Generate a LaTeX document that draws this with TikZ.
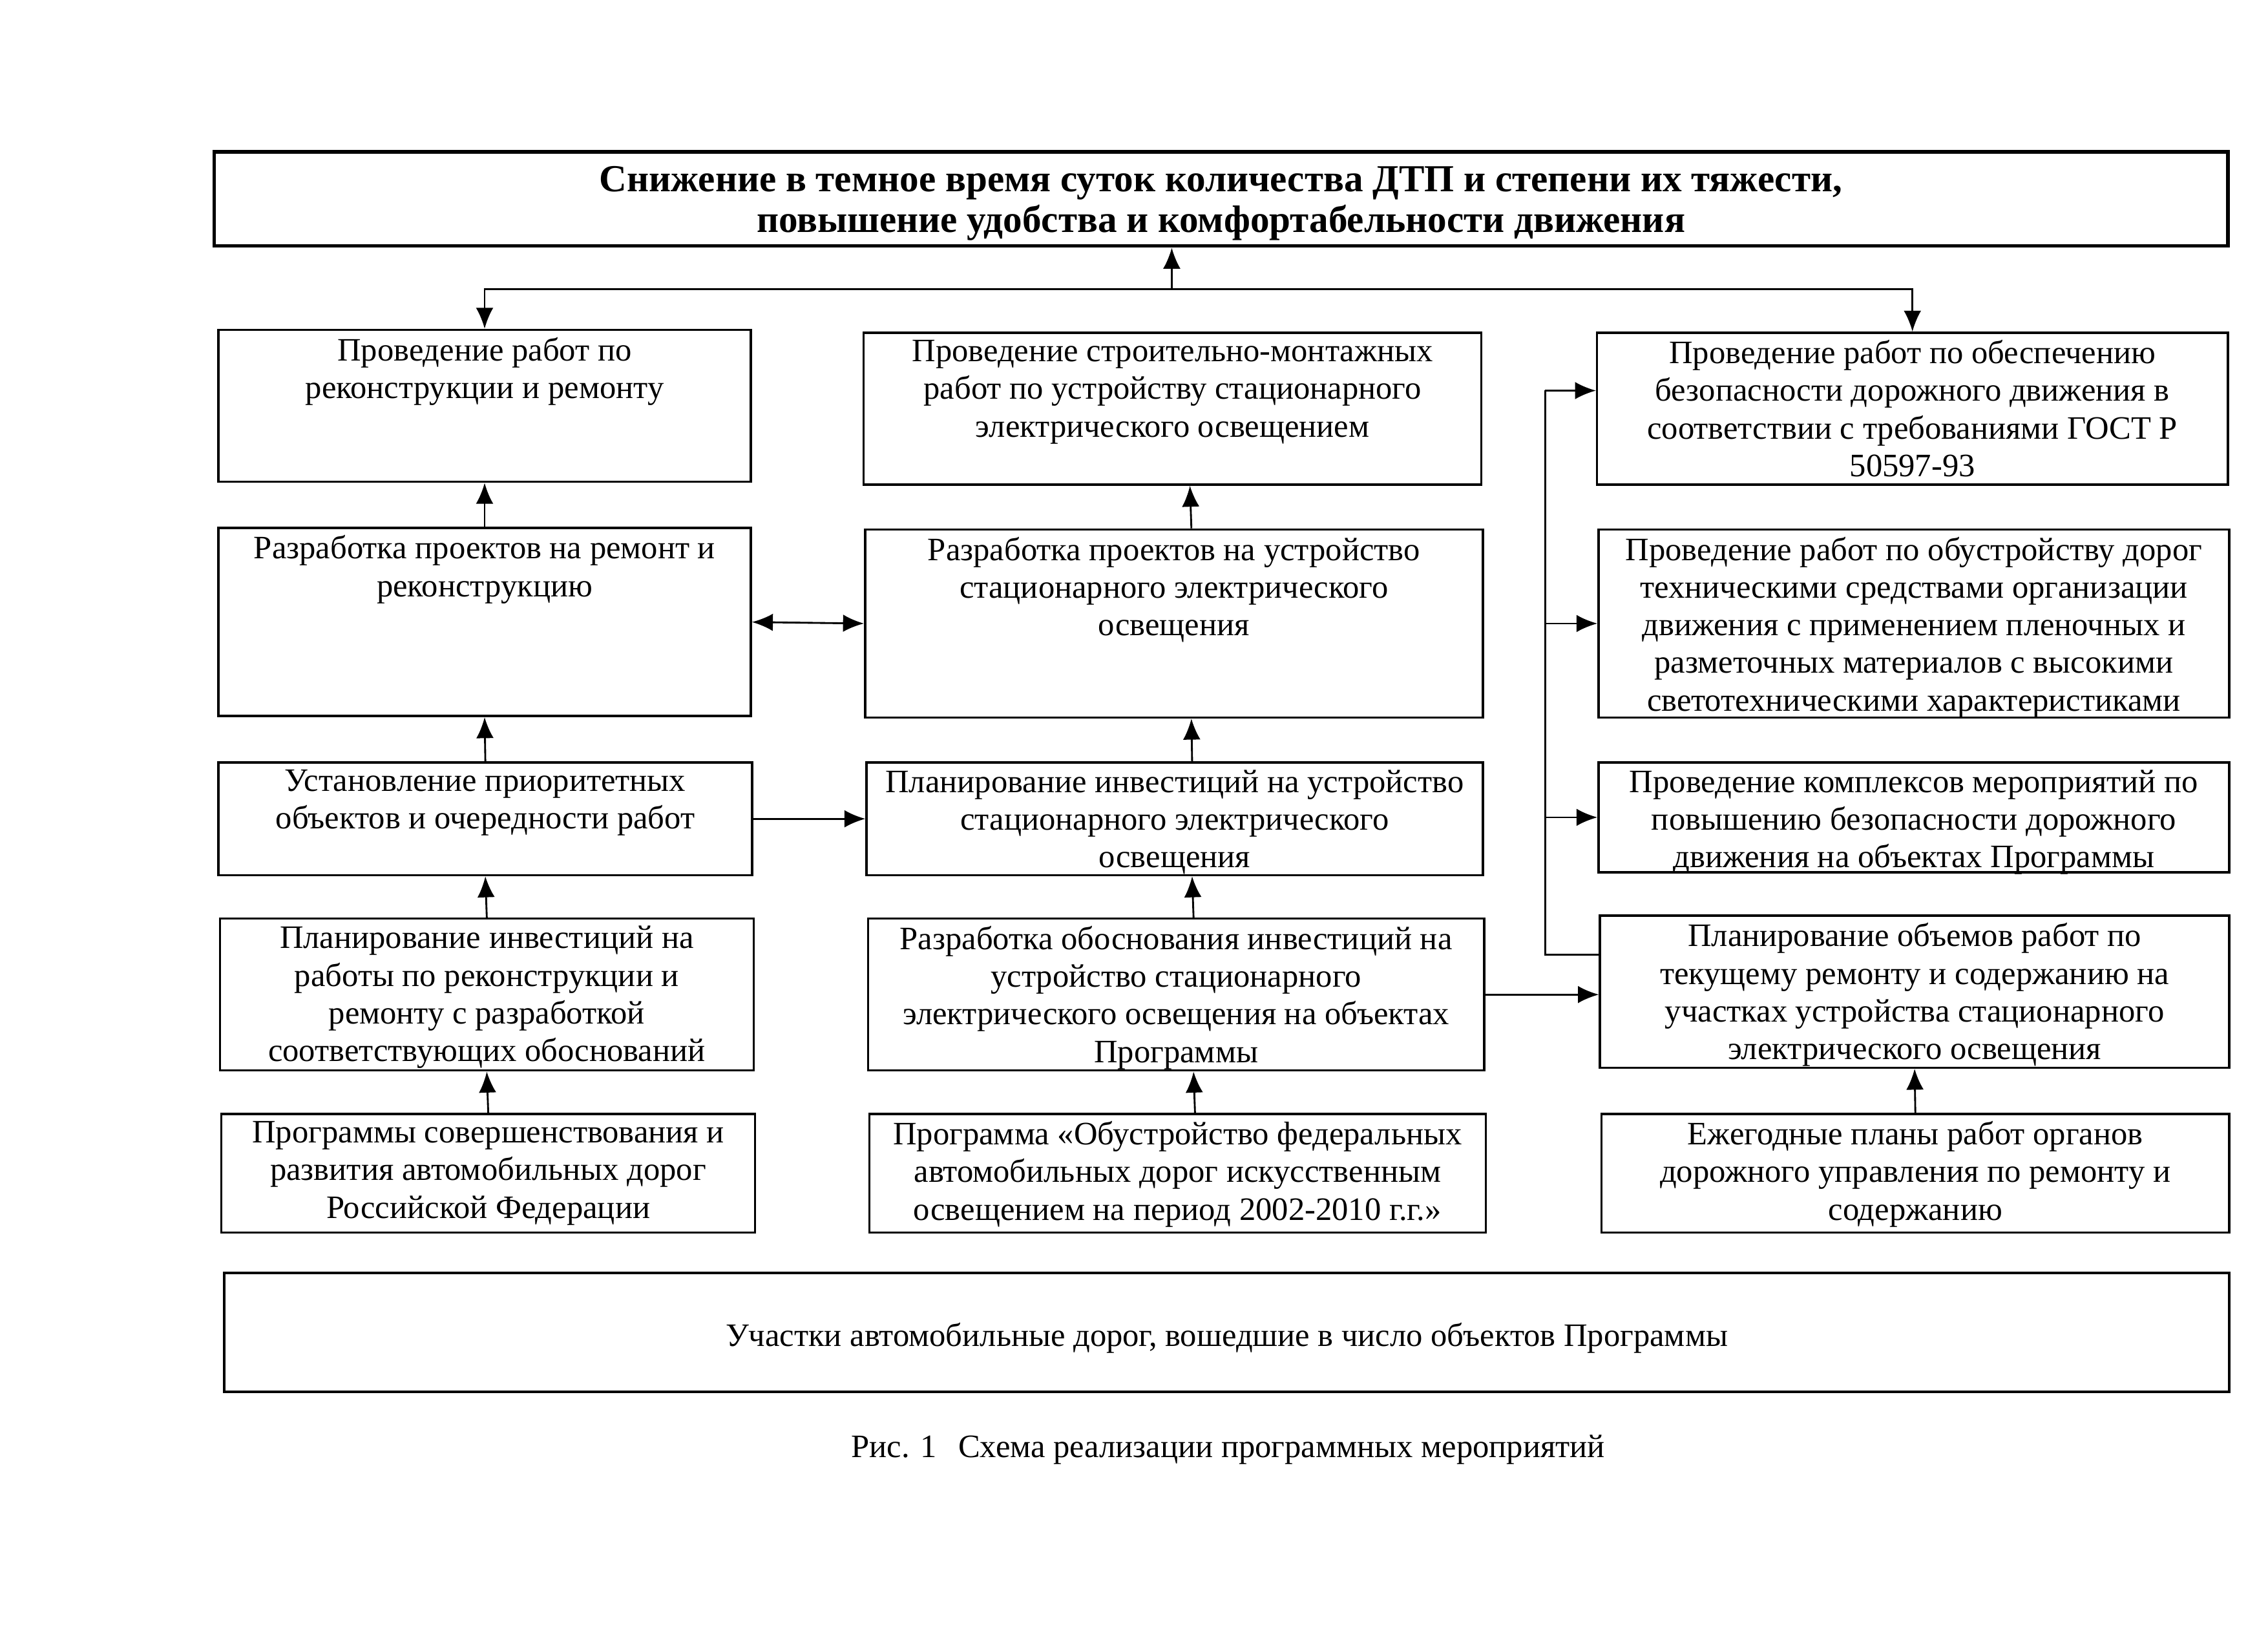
\documentclass[tikz,border=0pt]{standalone}
\usepackage{fontspec}
\setmainfont{Liberation Serif}
\usetikzlibrary{arrows.meta,fit}
\tikzset{
  box/.style={draw, line width=1.1pt, inner sep=0pt},
  txt/.style={align=center, font=\fontsize{16}{18.4}\selectfont, inner xsep=0pt, inner ysep=4pt, anchor=north},
  arr/.style={-{Latex[length=3.6mm,width=3mm]}, line width=0.9pt},
  darr/.style={{Latex[length=3.6mm,width=3mm]}-{Latex[length=3.6mm,width=3mm]}, line width=0.9pt},
  ln/.style={line width=0.9pt}
}
\begin{document}
\begin{tikzpicture}[x=0.24875mm,y=-0.24875mm]
\useasboundingbox (0,0) rectangle (1567.8,1139.7);
% boxes
\node[box, line width=1.8pt, fit={(148,105) (1540,170)}] (T) {};
\node[box, fit={(151,228) (519,333)}] (L1) {};
\node[box, fit={(151,365) (519,495)}] (L2) {};
\node[box, fit={(151,527) (520,605)}] (L3) {};
\node[box, fit={(152,635) (521,740)}] (L4) {};
\node[box, fit={(153,770) (522,852)}] (L5) {};
\node[box, fit={(597,230) (1024,335)}] (M1) {};
\node[box, fit={(598,366) (1025,496)}] (M2) {};
\node[box, fit={(599,527) (1025,605)}] (M3) {};
\node[box, fit={(600,635) (1026,740)}] (M4) {};
\node[box, fit={(601,770) (1027,852)}] (M5) {};
\node[box, fit={(1104,230) (1540,335)}] (R1) {};
\node[box, fit={(1105,366) (1541,496)}] (R2) {};
\node[box, fit={(1105,527) (1541,603)}] (R3) {};
\node[box, fit={(1106,633) (1541,738)}] (R4) {};
\node[box, fit={(1107,770) (1541,852)}] (R5) {};
\node[box, line width=1.4pt, fit={(155,880) (1541,962)}] (B) {};
% texts
\node[align=center, font=\bfseries\fontsize{18.7}{20}\selectfont] (Tt) at ([yshift=-0.8mm]T.center) {Снижение в темное время суток количества ДТП и степени их тяжести,\\повышение удобства и комфортабельности движения};
\node[txt] (L1t) at (L1.north) {Проведение работ по\\реконструкции и ремонту};
\node[txt] (L2t) at (L2.north) {Разработка проектов на ремонт и\\реконструкцию};
\node[txt] (L3t) at (L3.north) {Установление приоритетных\\объектов и очередности работ};
\node[txt] (L4t) at (L4.north) {Планирование инвестиций на\\работы по реконструкции и\\ремонту с разработкой\\соответствующих обоснований};
\node[txt] (L5t) at (L5.north) {Программы совершенствования и\\развития автомобильных дорог\\Российской Федерации};
\node[txt] (M1t) at (M1.north) {Проведение строительно-монтажных\\работ по устройству стационарного\\электрического освещением};
\node[txt] (M2t) at (M2.north) {Разработка проектов на устройство\\стационарного электрического\\освещения};
\node[txt] (M3t) at (M3.north) {Планирование инвестиций на устройство\\стационарного электрического\\освещения};
\node[txt] (M4t) at (M4.north) {Разработка обоснования инвестиций на\\устройство стационарного\\электрического освещения на объектах\\Программы};
\node[txt] (M5t) at (M5.north) {Программа «Обустройство федеральных\\автомобильных дорог искусственным\\освещением на период 2002-2010 г.г.»};
\node[txt] (R1t) at (R1.north) {Проведение работ по обеспечению\\безопасности дорожного движения в\\соответствии с требованиями ГОСТ Р\\50597-93};
\node[txt] (R2t) at (R2.north) {Проведение работ по обустройству дорог\\техническими средствами организации\\движения с применением пленочных и\\разметочных материалов с высокими\\светотехническими характеристиками};
\node[txt] (R3t) at (R3.north) {Проведение комплексов мероприятий по\\повышению безопасности дорожного\\движения на объектах Программы};
\node[txt] (R4t) at (R4.north) {Планирование объемов работ по\\текущему ремонту и содержанию на\\участках устройства стационарного\\электрического освещения};
\node[txt] (R5t) at (R5.north) {Ежегодные планы работ органов\\дорожного управления по ремонту и\\содержанию};
\node[font=\fontsize{16}{18.4}\selectfont] (Bt) at ([yshift=-1mm]B.center) {Участки автомобильные дорог, вошедшие в число объектов Программы};
\node[font=\fontsize{16}{18.4}\selectfont] (cap) at (849,1002) {Рис. 1\hspace{0.65em}Схема реализации программных мероприятий};
% top distribution
\coordinate (split) at (810,200);
\draw[arr] (split) -- (split |- T.south);
\draw[arr] (split) -| (L1.north);
\draw[arr] (split) -| (R1.north);
% left column
\draw[arr] (L2.north) -- (L1.south);
\draw[arr] (L3.north) -- (L2.south);
\draw[arr] (L4.north) -- (L3.south);
\draw[arr] (L5.north) -- (L4.south);
% middle column
\draw[arr] ([xshift=3mm]M2.north) -- ([xshift=3mm]M1.south);
\draw[arr] ([xshift=3mm]M3.north) -- ([xshift=3mm]M2.south);
\draw[arr] ([xshift=3mm]M4.north) -- ([xshift=3mm]M3.south);
\draw[arr] ([xshift=3mm]M5.north) -- ([xshift=3mm]M4.south);
% right column
\draw[arr] (R5.north) -- (R4.south);
% horizontal links
\draw[darr] (L2.east) -- (M2.west);
\draw[arr] (L3.east) -- (M3.west);
\draw[arr] (M4.east) -- (M4.east -| R4.west);
% bus
\coordinate (b1) at (1068,270);
\coordinate (b4) at (1068,660);
\draw[ln] (b4 -| R4.west) -- (b4) -- (b1);
\draw[arr] (b1) -- (b1 -| R1.west);
\draw[arr] (b4 |- R2.west) -- (R2.west);
\draw[arr] (b4 |- R3.west) -- (R3.west);
\end{tikzpicture}
\end{document}
